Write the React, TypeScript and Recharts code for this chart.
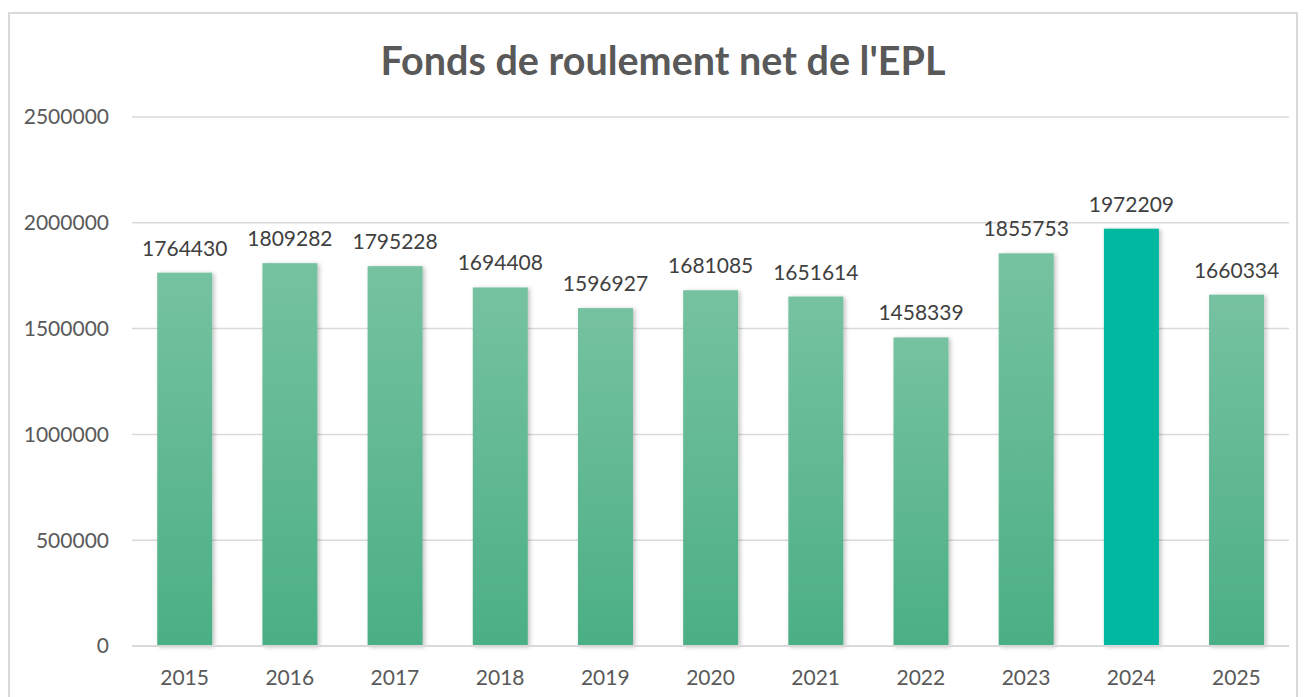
import React from "react";
import { BarChart, Bar, XAxis, YAxis, CartesianGrid, LabelList, Cell } from "recharts";

const years = ["2015", "2016", "2017", "2018", "2019", "2020", "2021", "2022", "2023", "2024", "2025"];
const fondsRoulement = [1764430, 1809282, 1795228, 1694408, 1596927, 1681085, 1651614, 1458339, 1855753, 1972209, 1660334];
const yTicks = [0, 500000, 1000000, 1500000, 2000000, 2500000];
const highlightYear = "2024";

const data = years.map((year, i) => ({ year, value: fondsRoulement[i] }));

const FONT = "Lato, 'Open Sans', sans-serif";

// Barre avec ombre portée légère, comme dans le graphique Excel d'origine
function ShadowBar(props: any) {
  const { x, y, width, height, fill } = props;
  if (!height || height <= 0) return null;
  return <rect x={x} y={y} width={width} height={height} fill={fill} filter="url(#barShadow)" />;
}

export default function App() {
  return (
    <div style={{ position: "absolute", left: 0, top: 0, width: 1306, height: 697, background: "#fff", fontFamily: FONT }}>
      <div
        style={{
          position: "absolute",
          left: 8,
          top: 12,
          width: 1290,
          height: 700,
          border: "2px solid #d9d9d9",
          boxSizing: "border-box",
        }}
      />
      <div
        style={{
          position: "absolute",
          top: 36,
          left: 0,
          width: 1326,
          textAlign: "center",
          fontSize: 39.5,
          lineHeight: "48px",
          fontWeight: 700,
          color: "#595959",
        }}
      >
        Fonds de roulement net de l'EPL
      </div>
      <div style={{ position: "absolute", left: 0, top: 0 }}>
        <BarChart
          width={1306}
          height={697}
          data={data}
          margin={{ top: 117, right: 17, left: 0, bottom: 21 }}
          barCategoryGap="24%"
        >
          <defs>
            <linearGradient id="barGrad" x1="0" y1="0" x2="0" y2="1">
              <stop offset="0%" stopColor="#76c2a0" />
              <stop offset="100%" stopColor="#4baf85" />
            </linearGradient>
            <filter id="barShadow" x="-30%" y="-10%" width="160%" height="120%">
              <feDropShadow dx="2" dy="1" stdDeviation="2" floodColor="#000" floodOpacity="0.25" />
            </filter>
          </defs>
          <CartesianGrid vertical={false} stroke="#d9d9d9" strokeWidth={1.5} />
          <XAxis
            dataKey="year"
            height={30}
            tickLine={false}
            axisLine={{ stroke: "#d9d9d9", strokeWidth: 2 }}
            tickMargin={18}
            tick={{ fontSize: 21, fill: "#595959", fontFamily: FONT }}
          />
          <YAxis
            width={132}
            domain={[0, 2500000]}
            ticks={yTicks}
            tickLine={false}
            axisLine={false}
            tickMargin={17}
            tick={{ fontSize: 21, fill: "#595959", fontFamily: FONT }}
          />
          <Bar dataKey="value" isAnimationActive={false} shape={<ShadowBar />}>
            {data.map((d) => (
              <Cell key={d.year} fill={d.year === highlightYear ? "#00b8a0" : "url(#barGrad)"} />
            ))}
            <LabelList
              dataKey="value"
              position="top"
              offset={17}
              style={{ fontSize: 21, fill: "#404040", fontFamily: FONT }}
            />
          </Bar>
        </BarChart>
      </div>
    </div>
  );
}
